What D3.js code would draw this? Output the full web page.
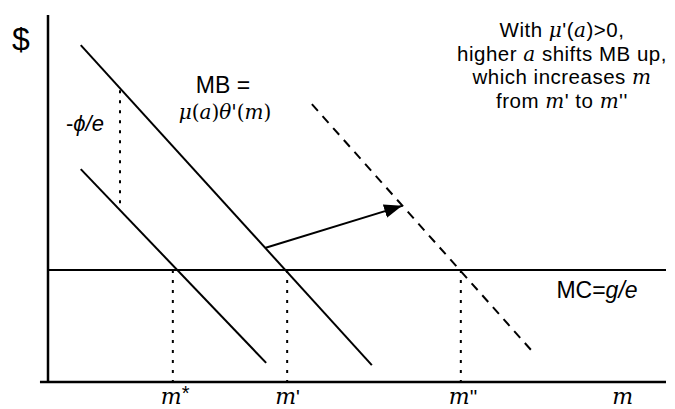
<!DOCTYPE html>
<html><head><meta charset="utf-8">
<script src="https://cdn.jsdelivr.net/npm/d3@7"></script>
<style>
html,body{margin:0;padding:0;background:#fff;}
svg{display:block;}
.sans{font-family:"Liberation Sans",Arial,Helvetica,sans-serif;}
.math{font-family:"DejaVu Serif","Liberation Serif",serif;font-style:italic;}
</style></head>
<body>
<svg id="chart" width="675" height="409"></svg>
<script>
// ---- data (chart units 0..100 on both axes) ----
const curveNames = ["MB_low", "MB", "MB_high"];
const curveX0 = [5.3, 5.3, 42.7];
const curveY0 = [58.0, 91.8, 75.7];
const curveX1 = [35.3, 52.4, 78.6];
const curveY1 = [5.2, 4.6, 7.9];
const curveDashed = [false, false, true];
const mcValue = 30.5;
const tickValues = [20.2, 38.7, 66.8];
const tickLabels = ["m*", "m'", "m''"];
const phiGapX = 11.65;
const arrowFrom = [35.1, 36.5];
const arrowTo = [57.3, 48.0];

const svg = d3.select("#chart");
const x = d3.scaleLinear().domain([0, 100]).range([48, 666]);
const y = d3.scaleLinear().domain([0, 100]).range([382, 15]);

const defs = svg.append("defs");
defs.append("marker").attr("id","ah").attr("viewBox","0 0 18 14")
  .attr("refX",18).attr("refY",7).attr("markerWidth",18).attr("markerHeight",14)
  .attr("markerUnits","userSpaceOnUse").attr("orient","auto")
  .append("path").attr("d","M0,0 L18,7 L0,14 Z").attr("fill","#000");

// axes
svg.append("line").attr("x1", x(0)).attr("x2", x(0)).attr("y1", y(100)).attr("y2", y(0))
  .attr("stroke","#000").attr("stroke-width",2.5);
svg.append("line").attr("x1", x(-1.3)).attr("x2", x(100)).attr("y1", y(0)).attr("y2", y(0))
  .attr("stroke","#000").attr("stroke-width",2.5);

// MC line
svg.append("line").attr("x1", x(0)).attr("x2", x(100)).attr("y1", y(mcValue)).attr("y2", y(mcValue))
  .attr("stroke","#000").attr("stroke-width",2);

// curves
curveNames.forEach((n, i) => {
  svg.append("line").attr("class","curve "+n)
    .attr("x1", x(curveX0[i])).attr("y1", y(curveY0[i]))
    .attr("x2", x(curveX1[i])).attr("y2", y(curveY1[i]))
    .attr("stroke","#000").attr("stroke-width",2)
    .attr("stroke-dasharray", curveDashed[i] ? "9,7" : null);
});

function yOn(i, xv) {
  const t = (xv - curveX0[i]) / (curveX1[i] - curveX0[i]);
  return curveY0[i] + t * (curveY1[i] - curveY0[i]);
}

// dotted verticals at tick values
tickValues.forEach(v => {
  svg.append("line").attr("x1", x(v)).attr("x2", x(v)).attr("y1", y(mcValue)).attr("y2", y(0))
    .attr("stroke","#000").attr("stroke-width",2).attr("stroke-dasharray","3,7");
});
// dotted gap -phi/e
svg.append("line").attr("x1", x(phiGapX)).attr("x2", x(phiGapX))
  .attr("y1", y(yOn(1, phiGapX)) + 2).attr("y2", y(yOn(0, phiGapX)))
  .attr("stroke","#000").attr("stroke-width",2).attr("stroke-dasharray","3,7");

// arrow
svg.append("line").attr("x1", x(arrowFrom[0])).attr("y1", y(arrowFrom[1]))
  .attr("x2", x(arrowTo[0])).attr("y2", y(arrowTo[1]))
  .attr("stroke","#000").attr("stroke-width",2).attr("marker-end","url(#ah)");

// tick labels
const tl = svg.append("g");
tickValues.forEach((v, i) => {
  const lab = tickLabels[i];
  const t = tl.append("text").attr("class","math").attr("x", x(v) - 12).attr("y", 404)
    .attr("font-size", 22);
  t.append("tspan").text("m");
  if (lab.endsWith("*")) t.append("tspan").attr("font-style","normal").attr("font-family","Liberation Sans").attr("font-size",20).attr("dy",-4).text("*");
  else t.append("tspan").attr("font-style","normal").attr("font-family","Liberation Sans").attr("font-size",20).text(lab.slice(1));
});
svg.append("text").attr("class","math").attr("x", x(93)).attr("y", 404).attr("text-anchor","middle")
  .attr("font-size", 22).text("m");

// $ label
svg.append("text").attr("class","sans").attr("x", 21).attr("y", 50).attr("text-anchor","middle")
  .attr("font-size", 32).text("$");

// -phi/e label
const pl = svg.append("text").attr("class","sans").attr("x", 66).attr("y", 131).attr("font-size", 22);
pl.append("tspan").text("-");
pl.append("tspan").attr("font-style","italic").text("ϕ/e");

// MB label
svg.append("text").attr("class","sans").attr("x", 223).attr("y", 93).attr("text-anchor","middle")
  .attr("font-size", 23).text("MB =");
const mb = svg.append("text").attr("class","math").attr("x", 225).attr("y", 119).attr("text-anchor","middle")
  .attr("font-size", 20);
mb.append("tspan").text("μ");
mb.append("tspan").attr("font-style","normal").text("(");
mb.append("tspan").text("a");
mb.append("tspan").attr("font-style","normal").text(")");
mb.append("tspan").text("θ");
mb.append("tspan").attr("font-style","normal").text("'(");
mb.append("tspan").text("m");
mb.append("tspan").attr("font-style","normal").text(")");

// MC label
const mc = svg.append("text").attr("class","sans").attr("x", 597).attr("y", 298).attr("text-anchor","middle")
  .attr("font-size", 23);
mc.append("tspan").text("MC=");
mc.append("tspan").attr("font-style","italic").text("g/e");

// annotation (one text element per line)
const annLines = [
  [["t","With "],["m","μ"],["t","'("],["m","a"],["t",")>0,"]],
  [["t","higher "],["m","a"],["t"," shifts MB up,"]],
  [["t","which increases "],["m","m"]],
  [["t","from "],["m","m"],["t","' to "],["m","m"],["t","''"]]
];
const annBase = [37, 60.5, 84, 107.5];
const cx = 562;
annLines.forEach((parts, li) => {
  const t = svg.append("text").attr("class","sans").attr("text-anchor","middle")
    .attr("x", cx).attr("y", annBase[li]).attr("font-size", 20.5).attr("letter-spacing", 0.5);
  parts.forEach(([k, s]) => {
    const sp = t.append("tspan").text(s);
    if (k === "m") sp.attr("font-family","DejaVu Serif").attr("font-style","italic").attr("font-size",20);
  });
});
</script>
</body></html>
